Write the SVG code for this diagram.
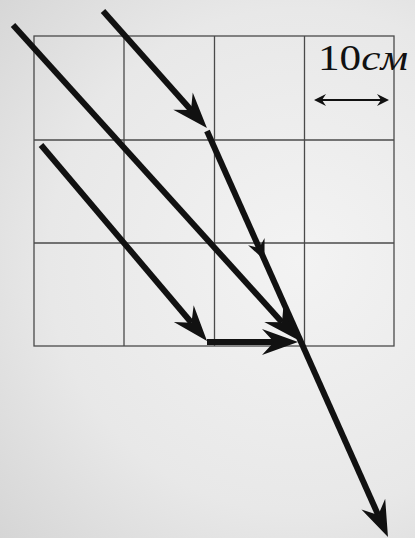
<svg xmlns="http://www.w3.org/2000/svg" width="415" height="538" viewBox="0 0 415 538">
  <defs>
    <radialGradient id="bg" cx="300" cy="260" r="420" gradientUnits="userSpaceOnUse">
      <stop offset="0" stop-color="#f3f3f3"/>
      <stop offset="0.6" stop-color="#e8e8e8"/>
      <stop offset="1" stop-color="#d4d4d4"/>
    </radialGradient>
    <marker id="big" markerUnits="userSpaceOnUse" orient="auto" refX="0" refY="0" viewBox="-14 -15 40 30" markerWidth="40" markerHeight="30">
      <path d="M24,0 L-12,-13 L0,0 L-12,13 Z" fill="#111"/>
    </marker>
    <marker id="small" markerUnits="userSpaceOnUse" orient="auto" refX="0" refY="0" viewBox="-10 -11 26 22" markerWidth="26" markerHeight="22">
      <path d="M13,0 L-7,-9 L0,0 L-7,9 Z" fill="#111"/>
    </marker>
    <marker id="tiny" markerUnits="userSpaceOnUse" orient="auto-start-reverse" refX="0" refY="0" viewBox="-6 -8 16 16" markerWidth="16" markerHeight="16">
      <path d="M8,0 L-4,-6 L0,0 L-4,6 Z" fill="#111"/>
    </marker>
    <style>
      .grid { fill: none; stroke: #4a4a4a; stroke-width: 1.3; }
      .ray { fill: none; stroke: #111; stroke-width: 6; stroke-linecap: butt; }
      .dim { fill: none; stroke: #111; stroke-width: 2.2; }
      .lbl { font-family: "Liberation Serif", "Times New Roman", serif; font-size: 36px; fill: #111; }
    </style>
  </defs>
  <rect width="415" height="538" fill="url(#bg)"/>
  <g id="grid">
    <rect class="grid" x="34" y="36" width="360" height="310"/>
    <line class="grid" x1="124" y1="36" x2="124" y2="346"/>
    <line class="grid" x1="214.5" y1="36" x2="214.5" y2="346"/>
    <line class="grid" x1="304.5" y1="36" x2="304.5" y2="346"/>
    <line class="grid" x1="34" y1="140" x2="394" y2="140"/>
    <line class="grid" x1="34" y1="243" x2="394" y2="243"/>
  </g>
  <g id="scale">
    <text class="lbl" x="318" y="70" textLength="90" lengthAdjust="spacingAndGlyphs">10<tspan font-style="italic">см</tspan></text>
    <line class="dim" x1="322" y1="100" x2="381" y2="100" marker-start="url(#tiny)" marker-end="url(#tiny)"/>
  </g>
  <g id="connectors">
    <line class="ray" x1="103" y1="11" x2="191" y2="110" marker-end="url(#big)"/>
    <line class="ray" x1="13" y1="25" x2="282" y2="322.2" marker-end="url(#big)"/>
    <line class="ray" x1="41" y1="145" x2="191.5" y2="322.7" marker-end="url(#big)"/>
    <line class="ray" x1="207" y1="342" x2="274" y2="342" marker-end="url(#big)"/>
    <line class="ray" x1="207" y1="131" x2="259.2" y2="248.1" marker-end="url(#small)"/>
    <line class="ray" x1="259.2" y1="248.1" x2="378.2" y2="515.1" marker-end="url(#big)"/>
  </g>
</svg>
